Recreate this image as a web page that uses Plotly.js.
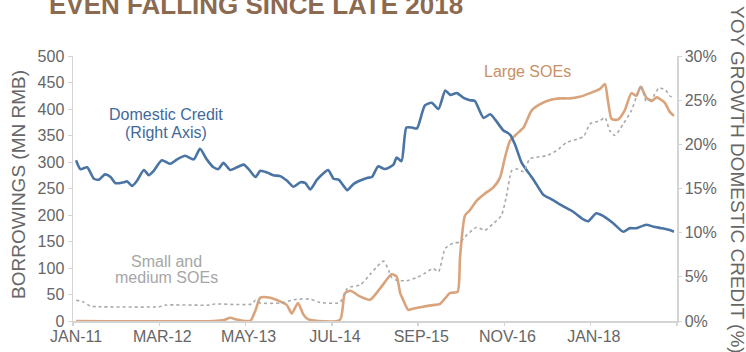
<!DOCTYPE html>
<html><head><meta charset="utf-8">
<script src="https://cdn.plot.ly/plotly-3.0.1.min.js"></script>
<style>html,body{margin:0;padding:0;background:#fff}#chart{width:746px;height:352px}</style>
</head><body><div id="chart"></div>
<script>
// month index 0 = JAN-11
const tickMonths = [0, 14, 28, 42, 56, 70, 84];
const tickLabels = ['JAN-11', 'MAR-12', 'MAY-13', 'JUL-14', 'SEP-15', 'NOV-16', 'JAN-18'];
const boundaryTicks = [-0.5, 13.5, 27.5, 41.5, 55.5, 69.5, 83.5, 97.5];

// Domestic credit, YoY growth % (right axis)
const creditMonths = [0,0.7,1.8,2.9,3.7,4.7,5.6,6.4,7.7,8.3,9.1,9.9,11.0,11.8,12.6,13.9,15.3,16.4,17.7,19.1,20.1,21.2,22.3,23.1,23.9,25.0,26.1,27.2,28.0,29.1,29.9,31.0,32.0,33.1,34.2,35.3,36.4,37.2,38.0,39.1,40.1,40.9,41.8,42.6,43.4,44.0,45.0,46.1,47.2,48.0,49.0,50.1,51.5,52.0,52.8,53.6,54.5,55.3,56.6,57.7,58.8,59.9,60.7,61.8,62.8,63.9,64.7,66.1,67.2,68.0,69.3,70.4,71.2,72.3,73.6,74.4,75.8,77.1,79.0,80.6,82.3,83.1,84.4,85.5,87.1,88.8,89.8,90.9,92.5,93.6,95.0,96.3,97.0];
const creditGrowth = [18.2,17.2,17.4,16.1,16.0,16.6,16.3,15.6,15.7,15.8,15.3,15.9,17.1,16.5,17.0,18.2,17.8,18.3,18.7,18.3,19.5,18.3,17.4,17.2,17.9,17.1,17.4,17.7,17.2,16.3,17.0,16.8,16.5,16.4,15.9,15.2,15.7,15.6,14.9,16.0,16.7,17.1,16.1,16.0,15.3,14.8,15.5,15.9,16.2,16.3,17.5,17.2,17.7,18.5,18.1,21.9,21.9,21.8,24.4,24.7,24.0,26.1,25.6,25.8,25.3,25.0,24.9,23.0,23.4,22.8,21.6,21.1,20.0,17.9,16.6,15.8,14.3,13.8,13.0,12.4,11.5,11.3,12.2,11.9,11.1,10.1,10.5,10.5,10.9,10.7,10.5,10.3,10.1];

// Large SOEs borrowings (MN RMB, left axis)
const largeMonths = [0,22.3,24.0,25.0,26.0,27.0,28.3,29.1,29.9,31.5,33.1,34.2,35.0,36.0,36.9,37.7,42.8,43.6,44.5,46.1,47.7,49.3,51.2,52.0,52.6,53.1,53.9,54.6,56.3,57.9,59.0,59.9,60.7,61.9,62.3,63.1,63.9,65.0,66.3,67.7,68.8,69.6,70.4,71.5,72.6,73.9,75.3,76.9,78.5,80.1,81.7,83.4,85.0,85.8,86.3,86.9,87.9,89.0,90.1,90.9,91.6,92.5,93.4,94.2,95.5,96.3,97.0];
const largeSOEs = [0,0,2,6,3,0.5,0.5,20,44,44,37,30,14,34,12,3,2,52,57,46,40,61,88,84,52,39,21,23,27,30,32,43,53,55,121,199,209,227,240,252,271,309,340,353,365,397,409,417,420,420,423,430,438,447,415,381,380,397,430,425,442,422,415,422,412,395,387];

// Small and medium SOEs borrowings (MN RMB, left axis)
const smallMonths = [0,1.2,2.3,3.5,13.5,14.5,21.5,22.5,28.5,29.1,29.9,33.1,35.8,38.0,39.6,42.8,43.9,44.5,46.1,47.7,48.8,49.9,50.7,51.2,52.0,53.6,55.3,56.6,57.9,58.8,59.9,61.2,62.3,63.4,65.0,66.3,67.7,69.0,69.8,70.7,71.5,72.6,73.6,74.7,76.3,77.9,79.6,81.3,82.4,83.4,85.0,85.8,86.6,87.4,88.8,90.1,90.9,91.7,92.5,93.4,94.6,95.7,96.3,97.0];
const smallSOEs = [39,36,28,27,27,30,30,32,32,39,34,34,41,41,35,35,60,64,68,88,102,113,96,82,77,76,82,90,99,93,137,147,149,162,177,171,184,199,234,284,287,282,306,309,312,321,337,343,349,372,378,384,359,350,372,397,422,444,415,419,440,435,425,421];

const M = {l: 73, r: 69, t: 56, b: 31};
const W = 746, H = 352;
const PW = W - M.l - M.r, PH = H - M.t - M.b;
const px = x => (x - M.l) / PW;
const py = y => (H - M.b - y) / PH;

const FONT = 'Liberation Sans, Arial, sans-serif';
const GREY_TXT = '#666666';
const AXIS_LINE = '#d4d4d4';

const traces = [
  {x: smallMonths, y: smallSOEs, xaxis: 'x2', yaxis: 'y', mode: 'lines', type: 'scatter',
   line: {color: '#a9a9a9', width: 1.6, dash: 'dot', shape: 'spline', smoothing: 0.6}, hoverinfo: 'skip'},
  {x: largeMonths, y: largeSOEs, xaxis: 'x', yaxis: 'y', mode: 'lines', type: 'scatter',
   line: {color: '#d9a47c', width: 2.6, shape: 'spline', smoothing: 0.6}, hoverinfo: 'skip'},
  {x: creditMonths, y: creditGrowth, xaxis: 'x', yaxis: 'y2', mode: 'lines', type: 'scatter',
   line: {color: '#4a74a3', width: 2.6, shape: 'spline', smoothing: 0.6}, hoverinfo: 'skip'}
];

const tf = {family: FONT, size: 16, color: GREY_TXT};

const layout = {
  width: W, height: H, margin: M, showlegend: false,
  paper_bgcolor: '#ffffff', plot_bgcolor: '#ffffff',
  xaxis: {range: [-0.5, 97.5], tickmode: 'array', tickvals: tickMonths, ticktext: tickLabels,
          ticks: '', showgrid: false, zeroline: false, showline: true, linecolor: AXIS_LINE, linewidth: 2,
          tickfont: tf, layer: 'below traces', fixedrange: true},
  xaxis2: {range: [-0.5, 97.5], overlaying: 'x', anchor: 'y', side: 'bottom', tickmode: 'array',
           tickvals: boundaryTicks, ticks: 'outside', ticklen: 4, tickcolor: AXIS_LINE, tickwidth: 1.5,
           showticklabels: false, showgrid: false, zeroline: false, showline: false, layer: 'below traces'},
  yaxis: {range: [0, 500], tickmode: 'linear', tick0: 0, dtick: 50, ticks: 'outside', ticklen: 4,
          tickcolor: AXIS_LINE, showgrid: false, zeroline: false, showline: true, linecolor: AXIS_LINE,
          linewidth: 1.5, tickfont: tf, layer: 'below traces'},
  yaxis2: {range: [0, 30], overlaying: 'y', side: 'right', anchor: 'x', tickmode: 'linear', tick0: 0, dtick: 5,
           ticksuffix: '%', ticks: 'outside', ticklen: 3, tickcolor: AXIS_LINE, showgrid: false, zeroline: false,
           showline: true, linecolor: AXIS_LINE, linewidth: 1.5, tickfont: tf, layer: 'below traces'},
  annotations: [
    {text: '<b>EVEN FALLING SINCE LATE 2018</b>', xref: 'paper', yref: 'paper', x: px(256), y: py(5),
     xanchor: 'center', yanchor: 'middle', showarrow: false, font: {family: FONT, size: 26, color: '#8b6a4f'}},
    {text: 'BORROWINGS (MN RMB)', xref: 'paper', yref: 'paper', x: px(18), y: py(185), textangle: -90,
     xanchor: 'center', yanchor: 'middle', showarrow: false, font: {family: FONT, size: 19, color: GREY_TXT}},
    {text: 'YOY GROWTH DOMESTIC CREDIT (%)', xref: 'paper', yref: 'paper', x: px(738), y: py(180), textangle: 90,
     xanchor: 'center', yanchor: 'middle', showarrow: false, font: {family: FONT, size: 19, color: GREY_TXT}},
    {text: 'Domestic Credit', xref: 'paper', yref: 'paper', x: px(166), y: py(115),
     xanchor: 'center', yanchor: 'middle', showarrow: false, font: {family: FONT, size: 16, color: '#41699a'}},
    {text: '(Right Axis)', xref: 'paper', yref: 'paper', x: px(166), y: py(132),
     xanchor: 'center', yanchor: 'middle', showarrow: false, font: {family: FONT, size: 16, color: '#41699a'}},
    {text: 'Large SOEs', xref: 'paper', yref: 'paper', x: px(527), y: py(71),
     xanchor: 'center', yanchor: 'middle', showarrow: false, font: {family: FONT, size: 16, color: '#c98f66'}},
    {text: 'Small and', xref: 'paper', yref: 'paper', x: px(166), y: py(261),
     xanchor: 'center', yanchor: 'middle', showarrow: false, font: {family: FONT, size: 16, color: '#a6a6a6'}},
    {text: 'medium SOEs', xref: 'paper', yref: 'paper', x: px(166), y: py(277),
     xanchor: 'center', yanchor: 'middle', showarrow: false, font: {family: FONT, size: 16, color: '#a6a6a6'}}
  ]
};

Plotly.newPlot('chart', traces, layout, {staticPlot: true, displayModeBar: false});
</script>
</body></html>
